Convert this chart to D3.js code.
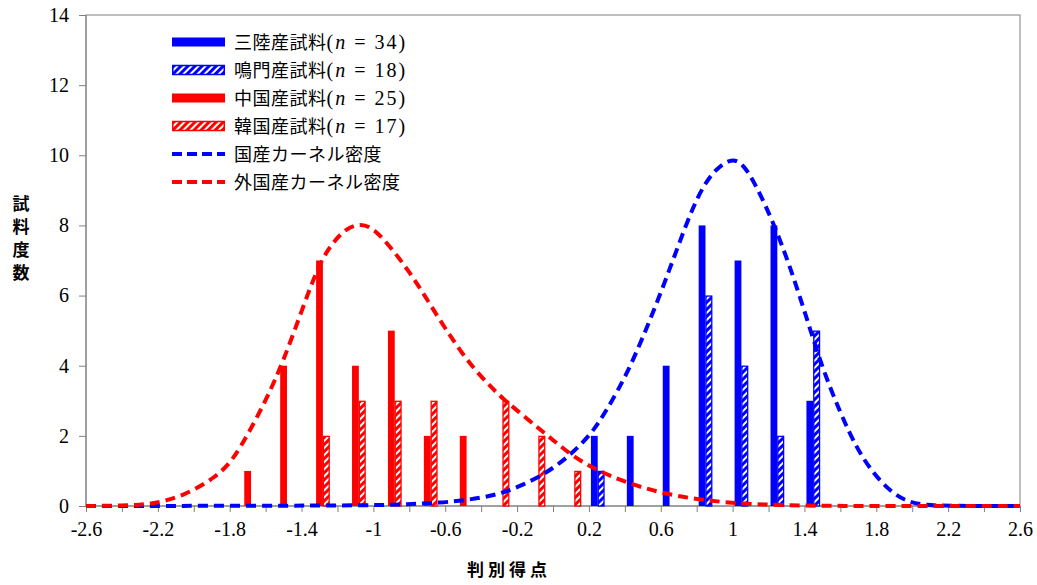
<!DOCTYPE html>
<html>
<head>
<meta charset="utf-8">
<script src="https://cdn.jsdelivr.net/npm/d3@7"></script>
<style>
  body { margin: 0; background: #fff; }
  svg { display: block; }
  .axis path, .axis line { stroke: #808080; }
  .axis text { font-family: "Liberation Serif", serif; font-size: 20px; fill: #000; }
</style>
</head>
<body>
<svg width="1037" height="585"></svg>
<script>
// histogram bins (bar position = discriminant score) and counts
const chinaBins = [-1.7, -1.5, -1.3, -1.1, -0.9, -0.7, -0.5];
const chinaCounts = [1, 4, 7, 4, 5, 2, 2];
const koreaBins = [-1.3, -1.1, -0.9, -0.7, -0.3, -0.1, 0.1];
const koreaCounts = [2, 3, 3, 3, 3, 2, 1];
const sanrikuBins = [0.23, 0.43, 0.63, 0.83, 1.03, 1.23, 1.43];
const sanrikuCounts = [2, 2, 4, 8, 7, 8, 3];
const narutoBins = [0.23, 0.83, 1.03, 1.23, 1.43];
const narutoCounts = [1, 6, 4, 2, 5];

// kernel density curves
const domesticKdeX = [-2.6, -1.0, -0.81, -0.63, -0.48, -0.35, -0.26, -0.17, -0.07, 0.02, 0.11, 0.21, 0.26, 0.32, 0.41, 0.5, 0.6, 0.69, 0.78, 0.87, 0.99, 1.06, 1.13, 1.23, 1.32, 1.41, 1.5, 1.6, 1.69, 1.78, 1.88, 1.97, 2.06, 2.2, 2.6];
const domesticKdeY = [0, 0.01, 0.05, 0.09, 0.17, 0.28, 0.41, 0.6, 0.85, 1.15, 1.52, 2.05, 2.42, 2.92, 3.75, 4.8, 6.07, 7.32, 8.55, 9.45, 9.95, 9.75, 9.15, 8.05, 6.82, 5.4, 3.92, 2.65, 1.65, 0.95, 0.4, 0.13, 0.03, 0, 0];
const foreignKdeX = [-2.6, -2.4, -2.24, -2.06, -1.87, -1.78, -1.69, -1.59, -1.5, -1.4, -1.3, -1.22, -1.15, -1.07, -1.0, -0.91, -0.81, -0.72, -0.63, -0.54, -0.45, -0.35, -0.28, -0.17, -0.07, 0.02, 0.11, 0.24, 0.41, 0.6, 0.82, 1.06, 1.3, 1.6, 2.0, 2.6];
const foreignKdeY = [0, 0.01, 0.04, 0.27, 0.84, 1.33, 2.12, 3.1, 4.15, 5.55, 6.95, 7.55, 7.92, 8.06, 7.92, 7.42, 6.75, 6.05, 5.3, 4.6, 3.97, 3.42, 3.06, 2.6, 2.17, 1.8, 1.42, 1.03, 0.66, 0.37, 0.17, 0.06, 0.02, 0, 0, 0];

const yTicks = [0, 2, 4, 6, 8, 10, 12, 14];

const legendItems = [
  {name: "三陸産試料", n: 34, kind: "solid", color: "#0000ff"},
  {name: "鳴門産試料", n: 18, kind: "hatch", color: "#0000ff"},
  {name: "中国産試料", n: 25, kind: "solid", color: "#ff0000"},
  {name: "韓国産試料", n: 17, kind: "hatch", color: "#ff0000"},
  {name: "国産カーネル密度", kind: "dash", color: "#0000ff"},
  {name: "外国産カーネル密度", kind: "dash", color: "#ff0000"}
];

const svg = d3.select("svg");
const margin = {left: 86, right: 17, top: 15, bottom: 79};
const W = 1037, H = 585;
const x = d3.scaleLinear().domain([-2.6, 2.6]).range([margin.left, W - margin.right]);
const y = d3.scaleLinear().domain([0, 14]).range([H - margin.bottom, margin.top]);
const barW = 6.8;
const cjk = "'Noto Sans CJK JP', sans-serif";

// hatch patterns
const defs = svg.append("defs");
[["blue", "#0000ff"], ["red", "#ff0000"]].forEach(([id, c]) => {
  const p = defs.append("pattern").attr("id", "hatch-" + id)
    .attr("patternUnits", "userSpaceOnUse").attr("width", 5).attr("height", 5)
    .attr("patternTransform", "rotate(45)");
  p.append("rect").attr("width", 5).attr("height", 5).attr("fill", c);
  p.append("rect").attr("width", 2).attr("height", 5).attr("fill", "#fff");
});

// frame
svg.append("rect").attr("x", x(-2.6)).attr("y", y(14))
  .attr("width", x(2.6) - x(-2.6)).attr("height", y(0) - y(14))
  .attr("fill", "none").attr("stroke", "#808080");

// axes
const xTickVals = d3.range(27).map(i => +(-2.6 + i * 0.2).toFixed(1));
svg.append("g").attr("class", "axis").attr("transform", `translate(0,${y(0)})`)
  .call(d3.axisBottom(x).tickValues(xTickVals).tickSize(6).tickPadding(10)
    .tickFormat((d, i) => i % 2 === 0 ? String(d) : ""))
  .call(g => g.select(".domain").attr("d", `M${x(-2.6)},0H${x(2.6)}`));
svg.append("g").attr("class", "axis").attr("transform", `translate(${x(-2.6)},0)`)
  .call(d3.axisLeft(y).tickValues(yTicks).tickSize(7).tickPadding(10))
  .call(g => g.select(".domain").attr("d", `M0,${y(0)}V${y(14)}`));

// bars
function drawBars(bins, counts, offset, fill, stroke) {
  svg.append("g").selectAll("rect").data(bins.map((b, i) => ({b, c: counts[i]})))
    .join("rect")
    .attr("x", d => x(d.b) - barW / 2 + offset + (stroke ? 0.5 : 0))
    .attr("width", barW - (stroke ? 1 : 0))
    .attr("y", d => y(d.c) + (stroke ? 0.5 : 0))
    .attr("height", d => y(0) - y(d.c) - (stroke ? 0.5 : 0))
    .attr("fill", fill)
    .attr("stroke", stroke || "none").attr("stroke-width", 1.3);
}
drawBars(chinaBins, chinaCounts, 0, "#ff0000");
drawBars(koreaBins, koreaCounts, barW, "url(#hatch-red)", "#ff0000");
drawBars(sanrikuBins, sanrikuCounts, 0, "#0000ff");
drawBars(narutoBins, narutoCounts, barW, "url(#hatch-blue)", "#0000ff");

// density curves
const line = d3.line().x(d => x(d[0])).y(d => y(d[1])).curve(d3.curveBasis);
svg.append("path").datum(domesticKdeX.map((v, i) => [v, domesticKdeY[i]]))
  .attr("d", line).attr("fill", "none").attr("stroke", "#0000ff")
  .attr("stroke-width", 4).attr("stroke-dasharray", "10,6");
svg.append("path").datum(foreignKdeX.map((v, i) => [v, foreignKdeY[i]]))
  .attr("d", line).attr("fill", "none").attr("stroke", "#ff0000")
  .attr("stroke-width", 4).attr("stroke-dasharray", "10,6");

// legend
const lg = svg.append("g").attr("transform", "translate(172,42)");
legendItems.forEach((d, i) => {
  const g = lg.append("g").attr("transform", `translate(0,${i * 28})`);
  if (d.kind === "solid") {
    g.append("rect").attr("x", 0).attr("y", -4.5).attr("width", 53).attr("height", 9).attr("fill", d.color);
  } else if (d.kind === "hatch") {
    g.append("rect").attr("x", 0.75).attr("y", -4.5).attr("width", 51.5).attr("height", 9)
      .attr("fill", d.color === "#0000ff" ? "url(#hatch-blue)" : "url(#hatch-red)")
      .attr("stroke", d.color).attr("stroke-width", 1.5);
  } else {
    g.append("line").attr("x1", 0).attr("x2", 53).attr("stroke", d.color)
      .attr("stroke-width", 4).attr("stroke-dasharray", "10,5");
  }
  const t = g.append("text").attr("x", 62).attr("y", 6.5).attr("font-size", 18);
  t.append("tspan").attr("font-family", cjk).attr("letter-spacing", 0.5).text(d.name);
  if (d.n !== undefined) {
    t.append("tspan").attr("font-family", "'Liberation Serif', serif").attr("font-size", 20).attr("letter-spacing", 2).text("(");
    t.append("tspan").attr("font-family", "'Liberation Serif', serif").attr("font-size", 20).attr("font-style", "italic").attr("letter-spacing", 2).text("n");
    t.append("tspan").attr("font-family", "'Liberation Serif', serif").attr("font-size", 20).attr("letter-spacing", 2).text(" = " + d.n + ")");
  }
});

// axis titles
const yTitle = "試料度数";
svg.append("g").selectAll("text").data(yTitle.split("")).join("text")
  .attr("x", 21).attr("y", (d, i) => 210 + i * 23)
  .attr("text-anchor", "middle").attr("font-family", cjk).attr("font-weight", "bold")
  .attr("font-size", 17).text(d => d);
svg.append("text").attr("x", 509).attr("y", 576).attr("text-anchor", "middle")
  .attr("font-family", cjk).attr("font-weight", "bold").attr("font-size", 17)
  .attr("letter-spacing", 4).text("判別得点");
</script>
</body>
</html>
